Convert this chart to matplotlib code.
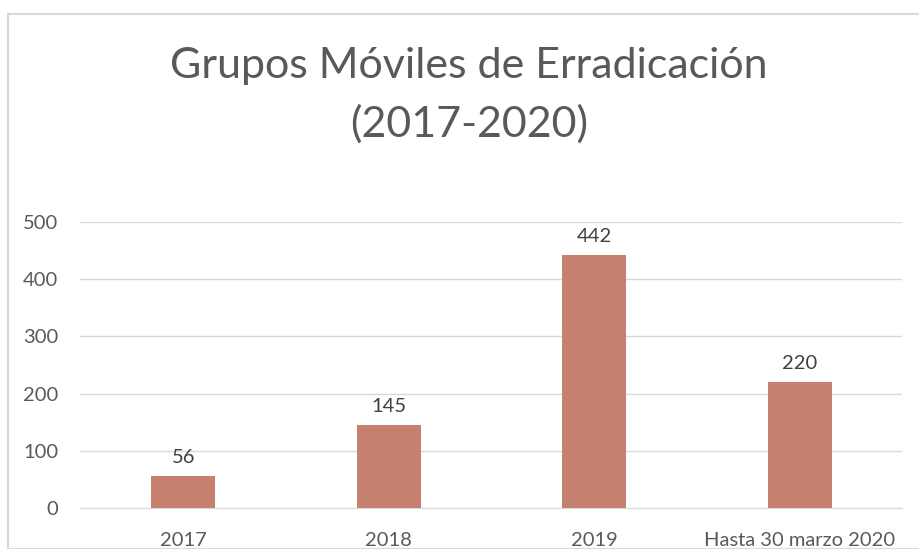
import matplotlib.pyplot as plt
from matplotlib.patches import Rectangle

categorias = ["2017", "2018", "2019", "Hasta 30 marzo 2020"]
valores = [56, 145, 442, 220]
titulo = "Grupos Móviles de Erradicación\n(2017-2020)"

plt.rcParams['font.family'] = ['Lato', 'DejaVu Sans']
gris = "#595959"

fig = plt.figure(figsize=(9.2, 5.49), dpi=100)
W, H = 920, 549

# marco del grafico
fig.patches.append(Rectangle((8 / W, 0), 1, 1 - 14 / H, transform=fig.transFigure,
                             fill=False, edgecolor="#d9d9d9", linewidth=1.5))

ax = fig.add_axes([80.5 / W, (H - 508) / H, 822 / W, 286 / H])
x = range(len(categorias))
bars = ax.bar(x, valores, width=0.31, color="#c5806f", zorder=2)
for b, v in zip(bars, valores):
    ax.text(b.get_x() + b.get_width() / 2, v + 18, str(v), ha="center", va="bottom",
            fontsize=14.5, color="#404040")

ax.set_xlim(-0.5, len(categorias) - 0.5)
ax.set_ylim(0, 500)
ax.set_yticks(range(0, 501, 100))
ax.set_xticks(list(x))
ax.set_xticklabels(categorias)
ax.grid(axis="y", color="#d9d9d9", linewidth=1, zorder=0)
for s in ["top", "right", "left"]:
    ax.spines[s].set_visible(False)
ax.spines["bottom"].set_color("#d9d9d9")
ax.tick_params(axis="both", length=0, labelsize=14.5, labelcolor=gris)
ax.tick_params(axis="y", pad=16)
ax.tick_params(axis="x", pad=17)

fig.text(469 / W, 1 - 95 / H, titulo, ha="center", va="center", fontsize=31,
         color=gris, linespacing=1.6)

fig.savefig("out.png", dpi=100)
